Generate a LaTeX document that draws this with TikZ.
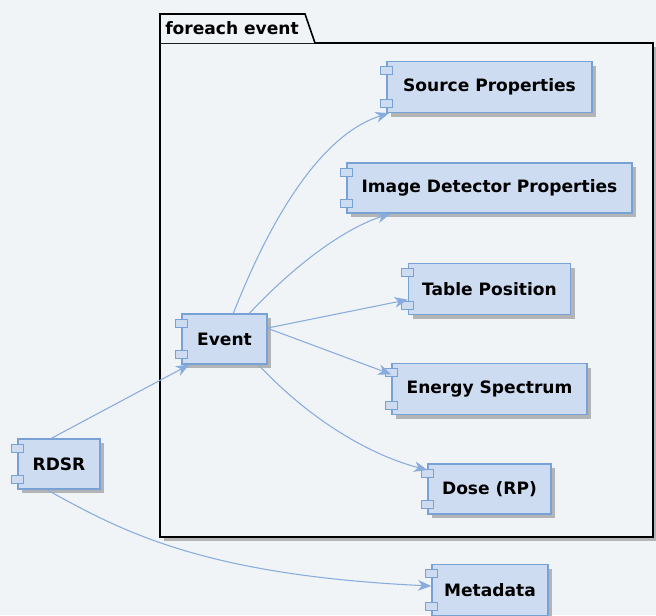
\documentclass[tikz,border=0pt]{standalone}
\usepackage{fontspec}
\setmainfont{DejaVu Sans}
\usetikzlibrary{arrows.meta,shadows}
\definecolor{bgc}{RGB}{241,244,247}
\definecolor{compfill}{RGB}{206,220,241}
\definecolor{compline}{RGB}{120,162,214}
\definecolor{arrowc}{RGB}{136,172,222}
\tikzset{
  comp/.style={draw=compline, fill=compfill, line width=1pt, inner sep=0pt,
    font=\bfseries\fontsize{12.8}{14}\selectfont, text=black,
    drop shadow={shadow xshift=3pt, shadow yshift=-3pt, fill=black!50, opacity=0.55}},
  port/.style={draw=compline, fill=compfill, line width=0.8pt},
  link/.style={draw=arrowc, line width=0.8pt, -{Stealth[length=10pt,width=8pt,inset=3pt]}},
  pkg/.style={draw=black, line width=1.2pt, fill=bgc}
}
\newcommand{\compnode}[6]{%
  \node[comp, minimum width=#4*0.75pt, minimum height=#5*0.75pt] (#1) at (#2,#3) {#6};
  \draw[port] ([xshift=-4.5pt,yshift=-4.5pt]#1.north west) rectangle ++(9pt,-6pt);
  \draw[port] ([xshift=-4.5pt,yshift=4.5pt]#1.south west) rectangle ++(9pt,6pt);
}
\begin{document}
\begin{tikzpicture}[x=0.75pt,y=-0.75pt]
\fill[bgc] (0,0) rectangle (656,615);
\useasboundingbox (0,0) rectangle (656,615);
% package
\fill[black!50,opacity=0.55] (164,47) rectangle (657,541);
\draw[pkg] (160,43) rectangle (653,537);
\draw[pkg] (160,43) -- (160,14) -- (305,14) -- (315,43);
\node[anchor=base west, inner sep=0pt, font=\bfseries\fontsize{12.8}{14}\selectfont] (pkglabel) at (165,34) {foreach event};
% components
\compnode{src}{489.5}{87}{205}{51}{Source Properties}
\compnode{idp}{489.5}{188}{285}{50}{Image Detector Properties}
\compnode{tp}{489.5}{289}{162}{51}{Table Position}
\compnode{es}{489.5}{389}{195}{51}{Energy Spectrum}
\compnode{dose}{489.5}{489}{123}{50}{Dose (RP)}
\compnode{meta}{490}{590}{116}{51}{Metadata}
\compnode{event}{224.5}{339}{85}{50}{Event}
\compnode{rdsr}{59}{464}{82}{50}{RDSR}
% connectors
\draw[link] ([xshift=25.5pt]rdsr.north west) -- ([xshift=6pt]event.south west);
\draw[link] ([xshift=22pt]rdsr.south west) .. controls (120,530) and (200,575) .. ([yshift=3pt]meta.west);
\draw[link] ([xshift=39pt]event.north west) .. controls (270,220) and (320,135) .. ([xshift=2pt]src.south west);
\draw[link] ([xshift=51pt]event.north west) .. controls (290,270) and (340,230) .. ([xshift=33pt]idp.south west);
\draw[link] ([yshift=-11pt]event.north east) -- ([yshift=-8pt]tp.west);
\draw[link] ([yshift=8pt]event.east) -- ([yshift=11pt]es.west);
\draw[link] ([xshift=-7pt]event.south east) .. controls (310,420) and (370,455) .. ([yshift=-5pt]dose.north west);
\end{tikzpicture}
\end{document}
